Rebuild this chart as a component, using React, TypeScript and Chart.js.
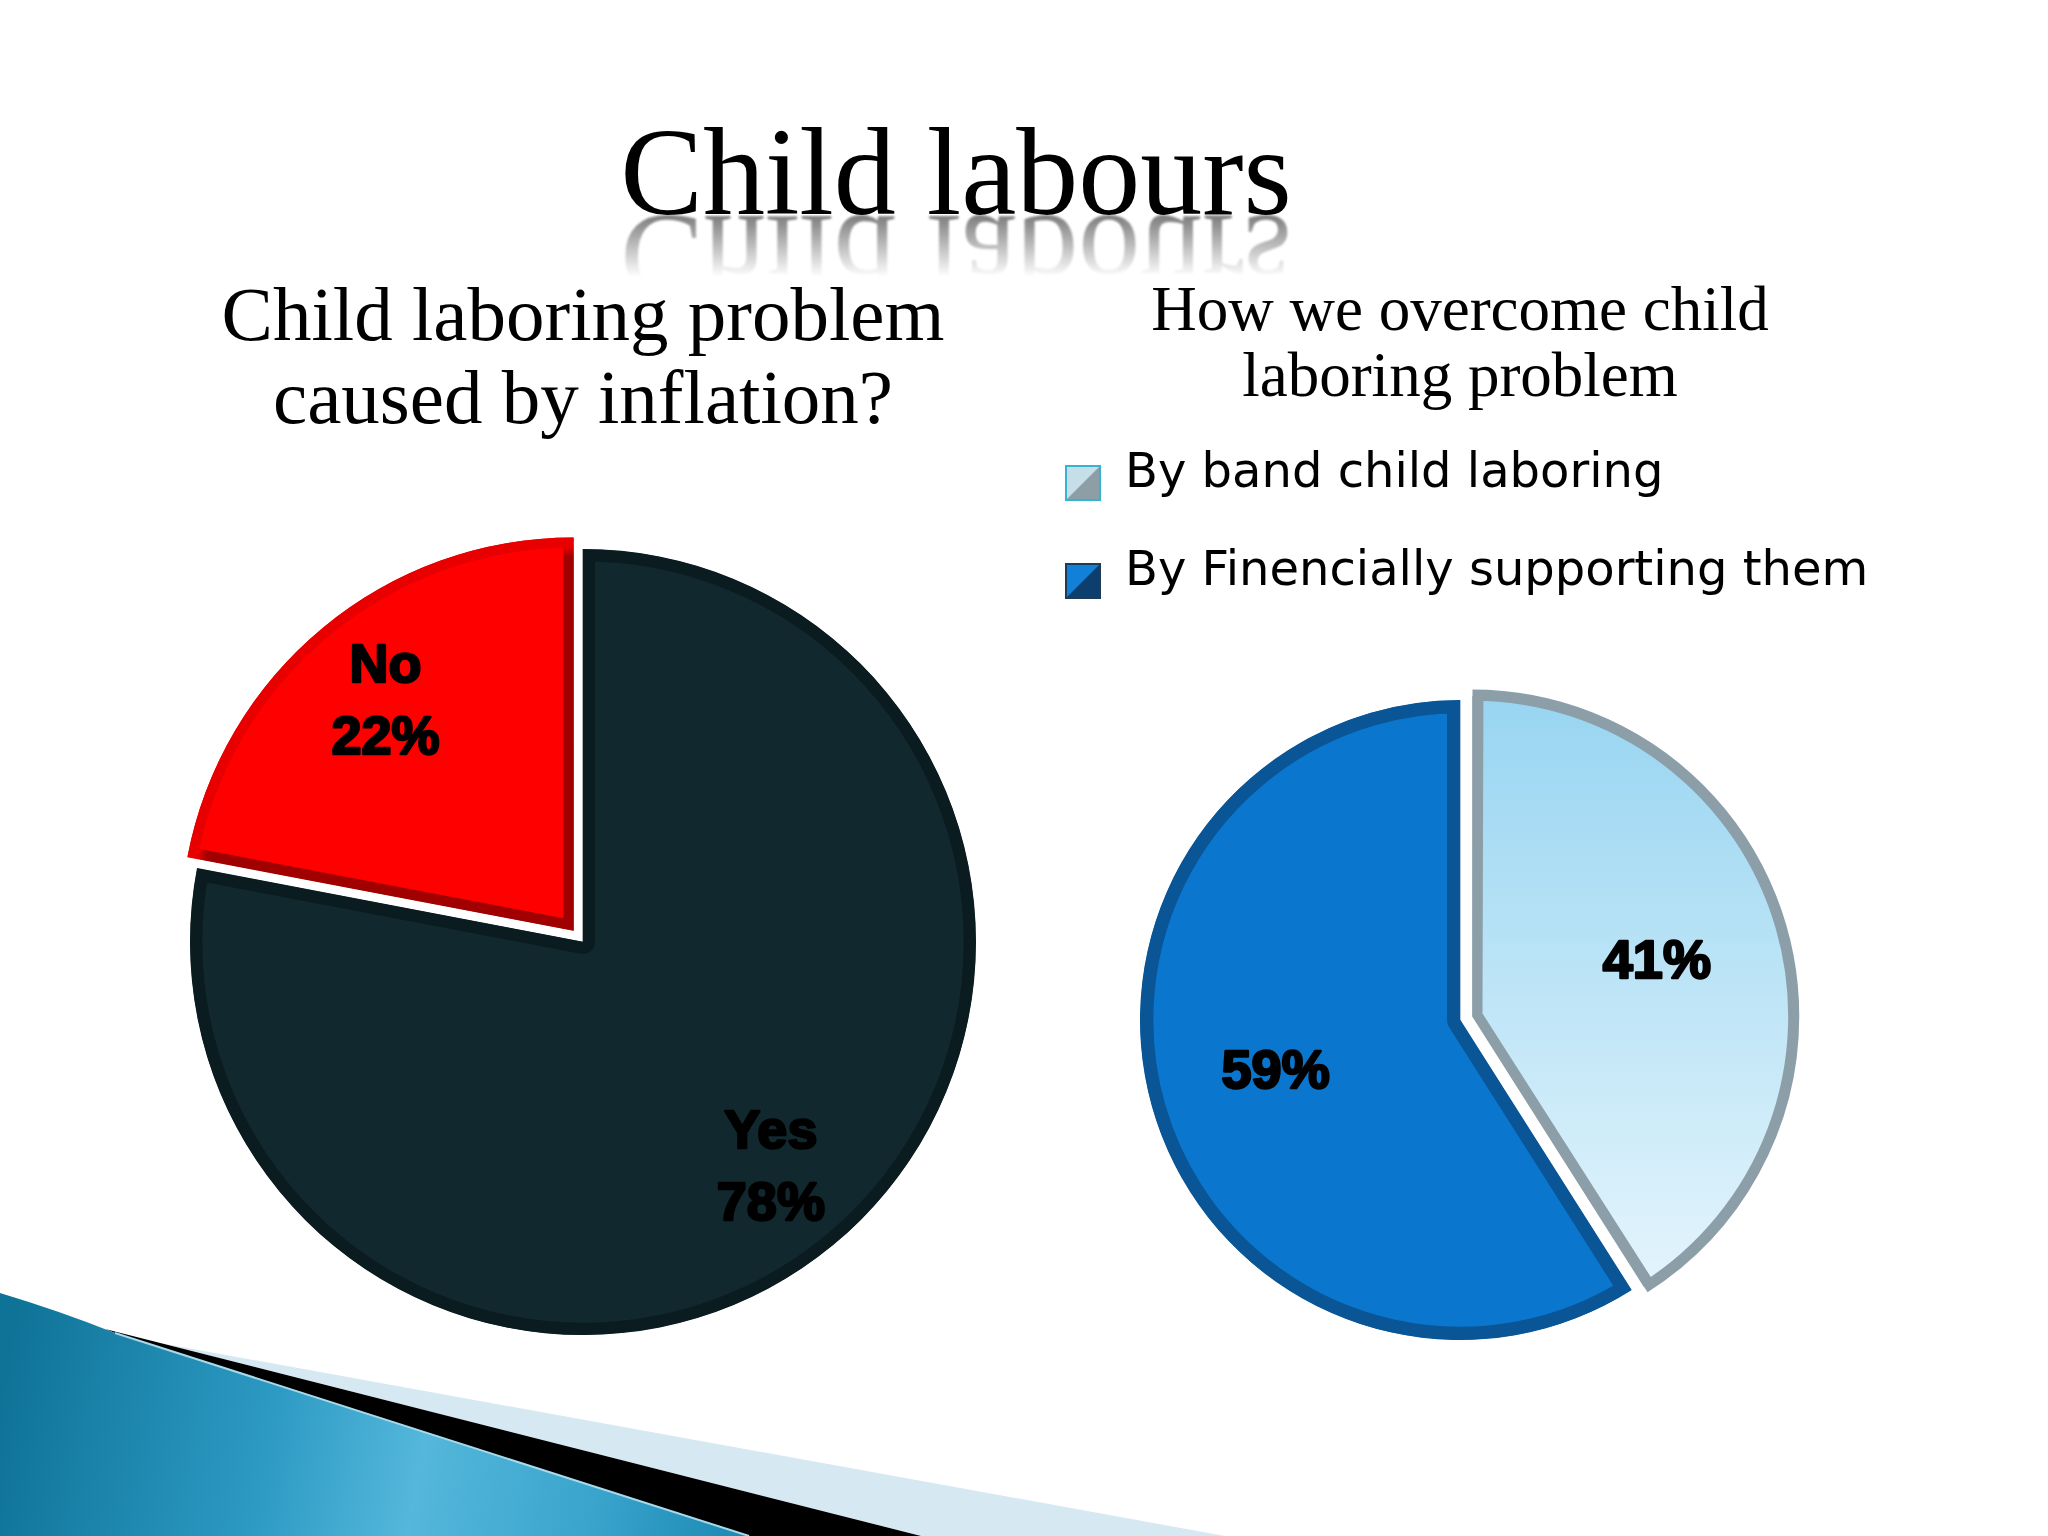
import React, { useEffect, useRef } from 'react';
import { Chart, registerables } from 'chart.js';

Chart.register(...registerables);

// ---------- data ----------
const PAGE_TITLE = 'Child labours';

const LEFT_TITLE = ['Child laboring problem', 'caused by inflation?'];
const LEFT_CATEGORIES = ['Yes', 'No'];
const LEFT_VALUES = [78, 22];

const RIGHT_TITLE = ['How we overcome child', 'laboring problem'];
const RIGHT_CATEGORIES = ['By band child laboring', 'By Finencially supporting them'];
const RIGHT_VALUES = [41, 59];

// ---------- style constants ----------
const LEFT_R = 393;
const RIGHT_R = 320;
const SERIF = '"Liberation Serif", "Times New Roman", serif';
const LABEL_FONT = 'bold 54px "Liberation Sans", Arial, sans-serif';

// fills the small ring that Chart.js leaves outside the border clip of an exploded slice
const offsetRim = {
  id: 'offsetRim',
  afterDatasetsDraw(chart: any) {
    const meta = chart.getDatasetMeta(0);
    const ctx = chart.ctx;
    meta.data.forEach((arc: any) => {
      const o = (arc.options.offset || 0) / 4;
      if (!o) return;
      const p = arc.getProps(['x', 'y', 'startAngle', 'endAngle', 'outerRadius', 'circumference'], true);
      const fix = 1 - Math.sin(Math.min(Math.PI, p.circumference || 0));
      const ro = o * fix;
      if (ro < 0.5) return;
      const mid = (p.startAngle + p.endAngle) / 2;
      ctx.save();
      ctx.translate(Math.cos(mid) * o, Math.sin(mid) * o);
      ctx.beginPath();
      ctx.arc(p.x, p.y, p.outerRadius + ro / 2, p.startAngle, p.endAngle);
      ctx.lineWidth = ro + 1.5;
      ctx.strokeStyle = arc.options.borderColor;
      ctx.stroke();
      ctx.restore();
    });
  },
};

// draws the value labels inside each slice, along the slice bisector
const sliceLabels = {
  id: 'sliceLabels',
  afterDatasetsDraw(chart: any, _args: any, opts: any) {
    if (!opts || !opts.labels) return;
    const meta = chart.getDatasetMeta(0);
    const ctx = chart.ctx;
    ctx.save();
    ctx.font = opts.font;
    ctx.fillStyle = opts.color;
    ctx.strokeStyle = opts.color;
    ctx.lineWidth = 2.5;
    ctx.lineJoin = 'round';
    ctx.textAlign = 'center';
    ctx.textBaseline = 'middle';
    meta.data.forEach((arc: any, i: number) => {
      const p = arc.getProps(['x', 'y', 'startAngle', 'endAngle', 'outerRadius'], true);
      const mid = (p.startAngle + p.endAngle) / 2;
      const shift = (arc.options.offset || 0) / 4;
      const r = p.outerRadius * opts.fraction + shift;
      const cx = p.x + Math.cos(mid) * r;
      const cy = p.y + Math.sin(mid) * r;
      const lines: string[] = opts.labels[i];
      const n = lines.length;
      lines.forEach((t, k) => {
        const ty = cy + (k - (n - 1) / 2) * opts.lineHeight;
        ctx.strokeText(t, cx, ty);
        ctx.fillText(t, cx, ty);
      });
    });
    ctx.restore();
  },
};

// draws the two-tone legend boxes at the item positions Chart.js computed
const legendBoxes = {
  id: 'legendBoxes',
  afterDraw(chart: any, _args: any, opts: any) {
    const lg = chart.legend;
    if (!lg || !lg.legendHitBoxes || !opts || !opts.dark) return;
    const ctx = chart.ctx;
    const s = opts.box;
    lg.legendHitBoxes.forEach((hb: any, i: number) => {
      const bx = hb.left;
      const by = hb.top + Math.max((opts.fontSize - s) / 2, 0) + opts.dy;
      ctx.save();
      ctx.fillStyle = opts.light[i];
      ctx.fillRect(bx, by, s, s);
      ctx.fillStyle = opts.dark[i];
      ctx.beginPath();
      ctx.moveTo(bx + s, by);
      ctx.lineTo(bx + s, by + s);
      ctx.lineTo(bx, by + s);
      ctx.closePath();
      ctx.fill();
      ctx.strokeStyle = opts.border[i];
      ctx.lineWidth = 2;
      ctx.strokeRect(bx + 1, by + 1, s - 2, s - 2);
      ctx.restore();
    });
  },
};

export default function App() {
  const leftRef = useRef<HTMLCanvasElement>(null);
  const rightRef = useRef<HTMLCanvasElement>(null);

  useEffect(() => {
    const left = new Chart(leftRef.current as HTMLCanvasElement, {
      type: 'pie',
      data: {
        labels: LEFT_CATEGORIES,
        datasets: [
          {
            data: LEFT_VALUES,
            radius: LEFT_R,
            offset: [0, 60],
            backgroundColor: ['#11282E', '#FE0000'],
            borderColor: (c: any) => {
              if (c.dataIndex === 0) return '#0B1C21';
              const ca = c.chart.chartArea;
              if (!ca) return '#A30000';
              const cx = (ca.left + ca.right) / 2;
              const cy = (ca.top + ca.bottom) / 2;
              const g = c.chart.ctx.createRadialGradient(cx, cy, 0, cx, cy, LEFT_R);
              g.addColorStop(0, '#A00000');
              g.addColorStop(0.95, '#A00000');
              g.addColorStop(0.975, '#E80000');
              g.addColorStop(1, '#E80000');
              return g;
            },
            borderWidth: [12, 10],
            borderAlign: 'inner',
          } as any,
        ],
      },
      options: {
        responsive: false,
        animation: false,
        events: [],
        plugins: {
          legend: { display: false },
          tooltip: { enabled: false },
          title: {
            display: true,
            text: LEFT_TITLE,
            color: '#000',
            font: { family: SERIF, size: 77, weight: 'normal', lineHeight: '83px' } as any,
            padding: { top: 278, bottom: 0 },
          },
          sliceLabels: {
            font: LABEL_FONT,
            color: '#000',
            fraction: 0.75,
            lineHeight: 72,
            labels: LEFT_CATEGORIES.map((c, i) => [c, `${LEFT_VALUES[i]}%`]),
          },
        } as any,
      },
      plugins: [offsetRim, sliceLabels],
    });

    const right = new Chart(rightRef.current as HTMLCanvasElement, {
      type: 'pie',
      data: {
        labels: RIGHT_CATEGORIES,
        datasets: [
          {
            data: RIGHT_VALUES,
            radius: RIGHT_R,
            offset: [52, 0],
            backgroundColor: (c: any) => {
              if (c.dataIndex === 1) return '#0A76CD';
              const ca = c.chart.chartArea;
              if (!ca) return '#BDE5F7';
              const cy = (ca.top + ca.bottom) / 2;
              const g = c.chart.ctx.createLinearGradient(0, cy - RIGHT_R, 0, cy + RIGHT_R);
              g.addColorStop(0, '#98D5F1');
              g.addColorStop(1, '#EAF7FD');
              return g;
            },
            borderColor: ['#8C9EA8', '#0A5596'],
            borderWidth: [10, 13],
            borderAlign: 'inner',
          } as any,
        ],
      },
      options: {
        responsive: false,
        animation: false,
        events: [],
        plugins: {
          tooltip: { enabled: false },
          title: {
            display: true,
            text: RIGHT_TITLE,
            color: '#000',
            font: { family: SERIF, size: 63, weight: 'normal', lineHeight: '66px' } as any,
            padding: { top: 280, bottom: -11 },
          },
          legend: {
            display: true,
            position: 'top',
            align: 'start',
            labels: {
              color: '#000',
              font: { family: '"DejaVu Sans", Verdana, sans-serif', size: 48 },
              boxWidth: 36,
              boxHeight: 36,
              padding: 50,
              generateLabels: (chart: any) =>
                chart.data.labels.map((t: string, i: number) => ({
                  text: t,
                  fillStyle: 'rgba(0,0,0,0)',
                  strokeStyle: 'rgba(0,0,0,0)',
                  lineWidth: 0,
                  fontColor: '#000',
                  hidden: false,
                  index: i,
                })),
            },
          },
          legendBoxes: {
            box: 36,
            fontSize: 48,
            dy: 8,
            light: ['#C6DEE7', '#1280D6'],
            dark: ['#8E9EA6', '#0C3F6E'],
            border: ['#35B3D2', '#1E3C58'],
          },
          sliceLabels: {
            font: LABEL_FONT,
            color: '#000',
            fraction: 0.6,
            lineHeight: 72,
            labels: RIGHT_VALUES.map((v) => [`${v}%`]),
          },
        } as any,
      },
      plugins: [offsetRim, sliceLabels, legendBoxes],
    });

    return () => {
      left.destroy();
      right.destroy();
    };
  }, []);

  const titleBase: React.CSSProperties = {
    position: 'absolute',
    width: 1000,
    textAlign: 'center',
    fontFamily: SERIF,
    fontSize: 124,
    lineHeight: '124px',
    whiteSpace: 'nowrap',
  };

  return (
    <div
      style={{
        position: 'fixed',
        left: 0,
        top: 0,
        width: 2048,
        height: 1536,
        background: '#ffffff',
        overflow: 'hidden',
      }}
    >
      <svg width={2048} height={1536} style={{ position: 'absolute', left: 0, top: 0 }}>
        <defs>
          <linearGradient id="teal" gradientUnits="userSpaceOnUse" x1="0" y1="1400" x2="760" y2="1536">
            <stop offset="0" stopColor="#0F7398" />
            <stop offset="0.35" stopColor="#2D9AC3" />
            <stop offset="0.55" stopColor="#54B7DB" />
            <stop offset="0.78" stopColor="#3AA4CC" />
            <stop offset="1" stopColor="#1787B1" />
          </linearGradient>
        </defs>
        <path d="M160,1343 L1225,1536 L921,1536 L105,1329 Z" fill="#D6E8F1" />
        <path d="M105,1329 L921,1536 L749,1536 L115,1333 Z" fill="#000" />
        <path d="M0,1293 Q60,1311 115,1333 L749,1536 L0,1536 Z" fill="url(#teal)" />
        <path d="M115,1333 L749,1536" stroke="#A8DAEA" strokeWidth={2} fill="none" />
      </svg>

      <div style={{ ...titleBase, left: 456, top: 111, color: '#000' }}>{PAGE_TITLE}</div>
      <div
        style={{
          position: 'absolute',
          left: 456,
          top: 215,
          width: 1000,
          height: 62,
          overflow: 'hidden',
          WebkitMaskImage: 'linear-gradient(to bottom, rgba(0,0,0,0.7), rgba(0,0,0,0))',
          maskImage: 'linear-gradient(to bottom, rgba(0,0,0,0.7), rgba(0,0,0,0))',
        }}
      >
        <div
          style={{
            ...titleBase,
            left: 0,
            top: -104,
            color: '#444',
            transform: 'scaleY(-1)',
            transformOrigin: '50% 104px',
            filter: 'blur(1px)',
          }}
        >
          {PAGE_TITLE}
        </div>
      </div>

      <canvas
        ref={leftRef}
        width={1166}
        height={1440}
        style={{ position: 'absolute', left: 0, top: 0, width: 1166, height: 1440 }}
      />
      <canvas
        ref={rightRef}
        width={890}
        height={1433}
        style={{ position: 'absolute', left: 1015, top: 0, width: 890, height: 1433 }}
      />
    </div>
  );
}
